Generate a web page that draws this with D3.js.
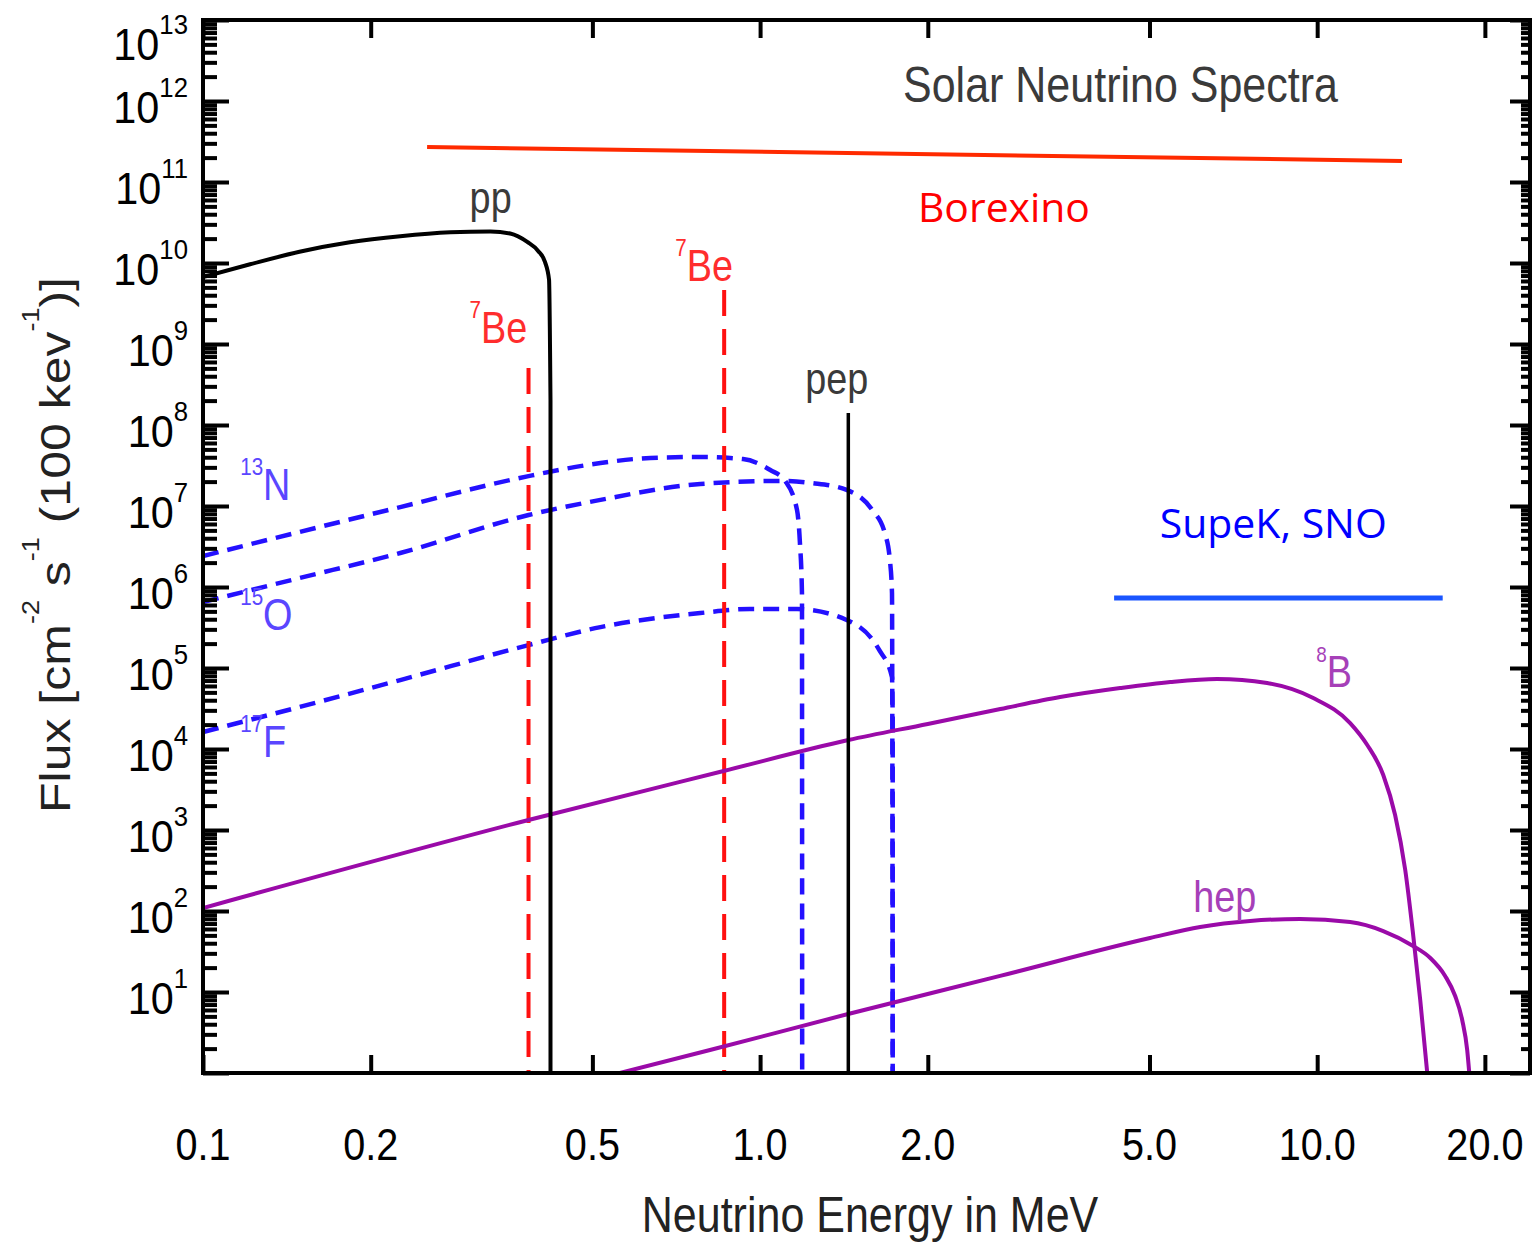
<!DOCTYPE html>
<html><head><meta charset="utf-8">
<script src="https://cdn.jsdelivr.net/npm/d3@7"></script>
<style>html,body{margin:0;padding:0;background:#fff;} svg{display:block}</style>
</head><body>
<svg id="chart" width="1533" height="1247"></svg>
<script>
// ---------- data (Energy in MeV, Flux) ----------
const ppE  = [0.100, 0.1215, 0.149, 0.1835, 0.226, 0.278, 0.328, 0.356, 0.382, 0.3995, 0.411, 0.418, 0.4205, 0.4205];
const ppF  = [6.7e9, 9.64e9, 1.374e10, 1.80e10, 2.14e10, 2.39e10, 2.45e10, 2.31e10, 1.82e10, 1.41e10, 1.03e10, 6.2e9, 2.0e8, 1];

const n13E = [0.100, 0.149, 0.226, 0.384, 0.517, 0.635, 0.781, 0.932, 1.043, 1.109, 1.165, 1.179, 1.189, 1.19];
const n13F = [2.41e6, 4.78e6, 9.7e6, 2.34e7, 3.39e7, 3.92e7, 4.03e7, 3.8e7, 2.78e7, 2.04e7, 8.9e6, 3.5e6, 8.4e5, 1];

const o15E = [0.100, 0.149, 0.226, 0.384, 0.517, 0.781, 1.098, 1.24, 1.43, 1.59, 1.675, 1.71, 1.725, 1.73];
const o15F = [6.53e5, 1.29e6, 2.63e6, 7.74e6, 1.19e7, 1.87e7, 2.04e7, 1.92e7, 1.58e7, 8.9e6, 4.6e6, 2.15e6, 8.4e5, 1];

const f17E = [0.100, 0.149, 0.226, 0.384, 0.517, 0.781, 0.959, 1.165, 1.43, 1.636, 1.725, 1.73, 1.73];
const f17F = [1.62e4, 3.30e4, 7.1e4, 1.92e5, 3.2e5, 4.77e5, 5.35e5, 5.35e5, 3.92e5, 1.67e5, 7.7e4, 2.28e4, 1];

const b8E  = [0.100, 0.384, 0.860, 1.44, 2.00, 2.70, 3.456, 4.43, 5.45, 6.61, 8.13, 9.84, 11.46, 12.30, 13.14, 13.80, 14.39, 14.87, 15.31, 15.76];
const b8F  = [109, 1.33e3, 5.35e3, 1.29e4, 2.04e4, 3.12e4, 4.38e4, 5.66e4, 6.72e4, 7.31e4, 6.53e4, 4.26e4, 2.09e4, 1.12e4, 4.78e3, 1.53e3, 321, 50.6, 7.97, 1];

const hepE = [0.516, 0.813, 1.439, 2.697, 5.01, 6.166, 7.58, 9.32, 11.46, 13.14, 14.87, 15.96, 16.97, 17.69, 18.21, 18.59, 18.75];
const hepF = [0.867, 1.92, 5.35, 15.8, 46.4, 63.5, 75.3, 79.7, 73.1, 56.6, 37.0, 26.3, 15.8, 8.93, 4.51, 1.92, 1];

// mono-energetic lines: [energy, top flux]
const be7Lines = [[0.384, 5.06e8], [0.862, 4.64e9]];
const pepLine  = [1.44, 1.41e8];

// experiment sensitivity ranges
const borexinoE = [0.2525, 14.2];
const borexinoF = [2.7e11, 1.82e11];
const superkE   = [4.32, 16.8];
const superkF   = [7.3e5, 7.3e5];

// ticks
const xTickValues = [0.1, 0.2, 0.5, 1, 2, 5, 10, 20];
const yDecades = d3.range(0, 14);          // 10^0 .. 10^13
const yLabelDecades = d3.range(1, 14);     // labelled 10^1 .. 10^13

// ---------- layout ----------
const SX = 0.86; // horizontal squeeze of the original picture
const svg = d3.select("#chart");
const L = 203, R = 1530, T = 20, B = 1073;
const x = d3.scaleLog().domain([0.1, 24.1]).range([L, R]);
const y = d3.scaleLog().domain([1, 1e13]).range([B, T]);

svg.append("defs").append("clipPath").attr("id", "clip")
  .append("rect").attr("x", L).attr("y", T).attr("width", R - L).attr("height", B - T);

const smooth = d3.line().x(d => x(d[0])).y(d => y(d[1])).curve(d3.curveMonotoneX);
const zip = (a, b) => a.map((v, i) => [v, b[i]]);
// smooth spectrum; a repeated final energy becomes a straight vertical drop
function spectrumPath(e, f) {
  const pts = zip(e, f);
  let cut = pts.length;
  for (let i = 1; i < pts.length; i++) if (pts[i][0] === pts[i - 1][0]) { cut = i; break; }
  let d = smooth(pts.slice(0, cut));
  for (let i = cut; i < pts.length; i++) d += `L${x(pts[i][0])},${y(pts[i][1])}`;
  return d;
}

const plot = svg.append("g").attr("clip-path", "url(#clip)");

// blue dashed CNO spectra
[[n13E, n13F], [o15E, o15F], [f17E, f17F]].forEach(([e, f]) => {
  plot.append("path").attr("d", spectrumPath(e, f))
    .attr("fill", "none").attr("stroke", "#2410ff").attr("stroke-width", 4.5)
    .attr("stroke-dasharray", "16,9");
});
// red dashed 7Be lines
be7Lines.forEach(([e, f]) => {
  plot.append("line").attr("x1", x(e)).attr("x2", x(e)).attr("y1", y(f)).attr("y2", y(1))
    .attr("stroke", "#ff1010").attr("stroke-width", 4).attr("stroke-dasharray", "26,13");
});
// purple 8B and hep
[[b8E, b8F], [hepE, hepF]].forEach(([e, f]) => {
  plot.append("path").attr("d", spectrumPath(e, f))
    .attr("fill", "none").attr("stroke", "#9a0aa8").attr("stroke-width", 4);
});
// black pp
plot.append("path").attr("d", spectrumPath(ppE, ppF))
  .attr("fill", "none").attr("stroke", "#000").attr("stroke-width", 4);
// pep
plot.append("line").attr("x1", x(pepLine[0])).attr("x2", x(pepLine[0]))
  .attr("y1", y(pepLine[1])).attr("y2", y(1)).attr("stroke", "#000").attr("stroke-width", 3.5);

// Borexino / SuperK ranges
svg.append("line").attr("x1", x(borexinoE[0])).attr("x2", x(borexinoE[1]))
  .attr("y1", y(borexinoF[0])).attr("y2", y(borexinoF[1]))
  .attr("stroke", "#ff2a00").attr("stroke-width", 4);
svg.append("line").attr("x1", x(superkE[0])).attr("x2", x(superkE[1]))
  .attr("y1", y(superkF[0])).attr("y2", y(superkF[1]))
  .attr("stroke", "#1a55ff").attr("stroke-width", 5);

// ---------- axes ----------
const minors = [];
yDecades.slice(0, -1).forEach(d => { for (let k = 2; k <= 9; k++) minors.push(k * Math.pow(10, d)); });
const majors = yDecades.map(d => Math.pow(10, d));

function styleAxis(g) {
  g.select(".domain").remove();
  g.selectAll(".tick line").attr("stroke", "#000").attr("stroke-width", 4);
  g.selectAll(".tick text").remove();
}
svg.append("g").attr("transform", `translate(${L},0)`)
  .call(d3.axisLeft(y).tickValues(majors).tickSize(-26).tickFormat("")).call(styleAxis);
svg.append("g").attr("transform", `translate(${L},0)`)
  .call(d3.axisLeft(y).tickValues(minors).tickSize(-14).tickFormat("")).call(styleAxis);
svg.append("g").attr("transform", `translate(${R},0)`)
  .call(d3.axisRight(y).tickValues(majors).tickSize(-20).tickFormat("")).call(styleAxis);
svg.append("g").attr("transform", `translate(${R},0)`)
  .call(d3.axisRight(y).tickValues(minors).tickSize(-9).tickFormat("")).call(styleAxis);
svg.append("g").attr("transform", `translate(0,${B})`)
  .call(d3.axisBottom(x).tickValues(xTickValues).tickSize(-18).tickFormat("")).call(styleAxis);
svg.append("g").attr("transform", `translate(0,${T})`)
  .call(d3.axisTop(x).tickValues(xTickValues).tickSize(-18).tickFormat("")).call(styleAxis);

svg.append("rect").attr("x", L).attr("y", T).attr("width", R - L).attr("height", B - T)
  .attr("fill", "none").attr("stroke", "#000").attr("stroke-width", 4);

// ---------- text helpers ----------
const FONT = "'Liberation Sans', Arial, Helvetica, sans-serif";
function label(px, py, parts, o = {}) {
  const t = svg.append("text")
    .attr("transform", `translate(${px},${py}) scale(${o.sx || SX},1)`)
    .attr("font-family", o.family || FONT)
    .attr("font-size", o.size || 44)
    .attr("fill", o.fill || "#000")
    .attr("text-anchor", o.anchor || "start");
  let shift = 0;
  parts.forEach(p => {
    const isSup = Array.isArray(p);
    const s = isSup ? p[0] : p;
    const target = isSup ? -(o.raise || 25) : 0;
    const ts = t.append("tspan").text(s).attr("dy", target - shift);
    if (isSup) ts.attr("font-size", o.supSize || 25);
    shift = target;
  });
  return t;
}

// y tick labels
yLabelDecades.forEach(d => {
  const ty = d === 13 ? 60 : y(Math.pow(10, d)) + 21.5;
  label(188, ty, ["10", [String(d)]], { anchor: "end", size: 45, supSize: 28, raise: 26, sx: 0.92 });
});
// x tick labels
const fmt = d3.format(".1f");
xTickValues.forEach(v => label(x(v), 1160, [fmt(v)], { anchor: "middle", size: 45, sx: 0.88 }));

// axis titles
label(870, 1232, ["Neutrino Energy in MeV"], { anchor: "middle", size: 50, fill: "#222" });
svg.append("text")
  .attr("transform", `translate(70,545) rotate(-90) scale(1,${SX})`)
  .attr("font-family", FONT).attr("font-size", 50).attr("fill", "#222")
  .attr("text-anchor", "middle")
  .call(t => {
    const parts = ["Flux [cm", ["-2"], " s", ["-1"], " (100 kev", ["-1"], ")]"];
    let shift = 0;
    parts.forEach(p => {
      const isSup = Array.isArray(p);
      const target = isSup ? -36 : 0;
      const ts = t.append("tspan").text(isSup ? p[0] : p).attr("dy", target - shift);
      if (isSup) ts.attr("font-size", 27);
      shift = target;
    });
  });

// title
label(903, 102, ["Solar Neutrino Spectra"], { size: 50, fill: "#3a3a3a" });

// curve labels (anchored in data coordinates)
label(x(0.301), y(4.14e10), ["pp"], { fill: "#3a3a3a" });
label(x(0.301), y(1.03e9), [["7"], "Be"], { fill: "#ff2d2d", supSize: 24 });
label(x(0.704), y(6.0e9), [["7"], "Be"], { fill: "#ff2d2d", supSize: 24 });
label(x(1.205), y(2.41e8), ["pep"], { fill: "#3a3a3a" });
label(x(0.1166), y(1.19e7), [["13"], "N"], { fill: "#5a46ff", supSize: 24 });
label(x(0.1166), y(2.95e5), [["15"], "O"], { fill: "#5a46ff", supSize: 24 });
label(x(0.1166), y(7.97e3), [["17"], "F"], { fill: "#5a46ff", supSize: 24 });
label(x(9.96), y(5.83e4), [["8"], "B"], { fill: "#a640b8", supSize: 22 });
label(x(5.99), y(97), ["hep"], { fill: "#a640b8" });

// experiment labels
svg.append("text").attr("x", x(2.74)).attr("y", y(3.2e10)).attr("text-anchor", "middle")
  .attr("font-family", "'Open Sans', Lato, sans-serif").attr("font-size", 40).attr("fill", "#ff0000")
  .attr("textLength", 172).attr("lengthAdjust", "spacingAndGlyphs").text("Borexino");
svg.append("text").attr("x", x(8.34)).attr("y", y(4.03e6)).attr("text-anchor", "middle")
  .attr("font-family", "'Open Sans', Lato, sans-serif").attr("font-size", 40).attr("fill", "#0000ff")
  .attr("textLength", 227).attr("lengthAdjust", "spacingAndGlyphs").text("SupeK, SNO");
</script>
</body></html>
